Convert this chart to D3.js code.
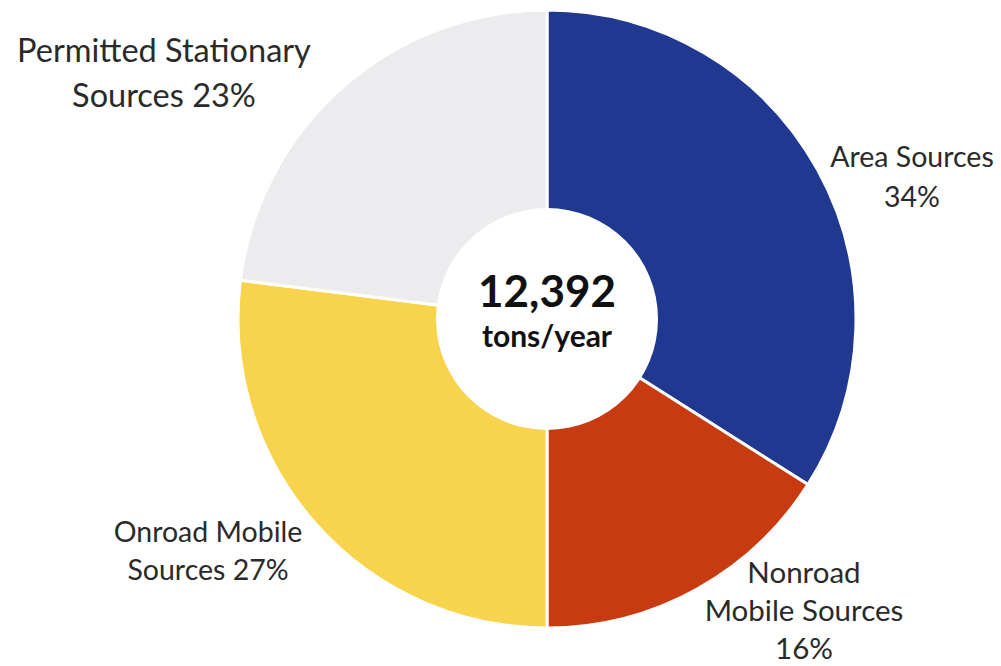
<!DOCTYPE html>
<html>
<head>
<meta charset="utf-8">
<script src="https://cdn.jsdelivr.net/npm/d3@7"></script>
<style>
  html, body { margin: 0; padding: 0; background: #fff; }
  svg { display: block; }
  text { font-family: Lato, "Open Sans", sans-serif; }
</style>
</head>
<body>
<svg id="chart" width="1001" height="666"></svg>
<script>
// ---- data ----
const categories = ["Area Sources", "Nonroad Mobile Sources", "Onroad Mobile Sources", "Permitted Stationary Sources"];
const shares = [34, 16, 27, 23];
const labelLines = [
  ["Area Sources", "34%"],
  ["Nonroad", "Mobile Sources", "16%"],
  ["Onroad Mobile", "Sources 27%"],
  ["Permitted Stationary", "Sources 23%"]
];
const colors = ["#213891", "#c83a10", "#f7d44c", "#ececee"];
const totalValue = "12,392";
const totalUnit = "tons/year";

// ---- layout ----
const W = 1001, H = 666;
const cx = 547, cy = 319, outerR = 309, innerR = 111;
// label anchors: [x, first baseline, line height, font size]
const labelLayout = [
  [912, 167, 40, 28.5],
  [804, 583, 38, 29.5],
  [208, 542, 38, 28.5],
  [164, 62, 45, 32.5]
];

const svg = d3.select("#chart");
const g = svg.append("g").attr("transform", `translate(${cx},${cy})`);

const pie = d3.pie().sort(null).value(d => d.value);
const arcs = pie(categories.map((c, i) => ({ name: c, value: shares[i] })));
const arc = d3.arc().innerRadius(0).outerRadius(outerR);

const color = d3.scaleOrdinal().domain(categories).range(colors);

g.selectAll("path.slice")
  .data(arcs)
  .enter().append("path")
  .attr("class", "slice")
  .attr("d", arc)
  .attr("fill", d => color(d.data.name))
  .attr("stroke", "#ffffff")
  .attr("stroke-width", 3)
  .attr("stroke-linejoin", "miter");

g.append("circle").attr("r", innerR).attr("fill", "#ffffff");

g.append("text")
  .attr("text-anchor", "middle")
  .attr("y", -12)
  .attr("font-weight", 700)
  .attr("font-size", 44)
  .attr("fill", "#111")
  .text(totalValue);

g.append("text")
  .attr("text-anchor", "middle")
  .attr("y", 28)
  .attr("font-weight", 700)
  .attr("font-size", 30)
  .attr("fill", "#111")
  .text(totalUnit);

labelLines.forEach((lines, i) => {
  const [x, y0, lh, fs] = labelLayout[i];
  const t = svg.append("text")
    .attr("text-anchor", "middle")
    .attr("font-size", fs)
    .attr("fill", "#2a2a2a");
  lines.forEach((ln, j) => {
    t.append("tspan").attr("x", x).attr("y", y0 + j * lh).text(ln);
  });
});
</script>
</body>
</html>
